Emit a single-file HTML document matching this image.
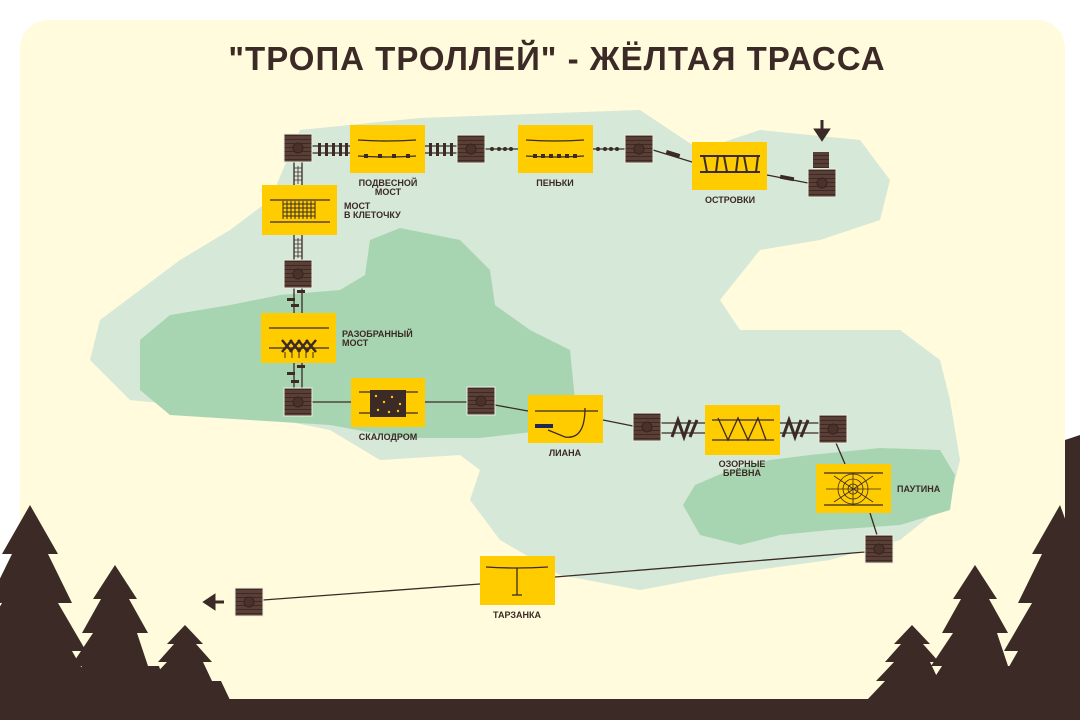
<!DOCTYPE html>
<html><head><meta charset="utf-8"><style>
html,body{margin:0;padding:0;background:#fff;width:1080px;height:720px;overflow:hidden}
svg{display:block}
text{font-family:"Liberation Sans","DejaVu Sans",sans-serif;font-weight:bold;fill:#3b2a26}
.l{font-size:9px}
</style></head><body>
<svg width="1080" height="720" viewBox="0 0 1080 720" xmlns="http://www.w3.org/2000/svg">
<defs>
<pattern id="wood" width="6" height="4" patternUnits="userSpaceOnUse">
<rect width="6" height="4" fill="#5a3f36"/><rect y="3" width="6" height="1" fill="#3e2a24"/>
</pattern>
<g id="pf"><rect x="-14" y="-14" width="28" height="28" fill="url(#wood)" stroke="#e8f0e0" stroke-width="1"/><circle r="5" fill="#4a322b" stroke="#35241f" stroke-width="1"/></g>
</defs>
<rect x="20" y="20" width="1045" height="690" rx="28" fill="#fffbdc"/>
<!-- light green -->
<path d="M300,130 L420,118 L640,110 L700,150 L760,130 L860,140 L890,180 L880,220 L820,240 L760,250 L720,300 L740,330 L800,330 L900,330 L940,360 L950,400 L960,460 L950,500 L900,540 L830,560 L720,575 L640,590 L560,575 L500,540 L470,500 L480,470 L460,455 L380,460 L330,430 L230,410 L130,400 L90,360 L100,320 L140,290 L180,260 L230,230 L270,200 Z" fill="#d6e8d8"/>
<!-- dark green -->
<path d="M370,240 L400,228 L460,240 L490,270 L495,305 L530,330 L570,350 L575,400 L550,430 L480,438 L400,438 L330,425 L250,420 L170,415 L140,390 L140,340 L170,315 L230,305 L280,295 L340,290 L365,275 Z" fill="#a8d5b1"/>
<path d="M730,470 L770,460 L810,455 L880,448 L940,450 L955,475 L950,510 L900,525 L830,530 L780,535 L740,545 L700,535 L683,505 L695,485 Z" fill="#a8d5b1"/>
<text x="557" y="70" text-anchor="middle" font-size="33" style="letter-spacing:1px">"ТРОПА ТРОЛЛЕЙ" - ЖЁЛТАЯ ТРАССА</text>
<!-- connectors -->
<g stroke="#3b2a26" stroke-width="1.3" fill="none">
<line x1="312" y1="146" x2="350" y2="146"/><line x1="312" y1="153" x2="350" y2="153"/>
<line x1="425" y1="146" x2="457" y2="146"/><line x1="425" y1="153" x2="457" y2="153"/>
<line x1="485" y1="149" x2="518" y2="149"/><line x1="593" y1="149" x2="625" y2="149"/>
<line x1="653" y1="150" x2="692" y2="162"/><line x1="767" y1="175" x2="808" y2="183"/>
<line x1="294" y1="162" x2="294" y2="260"/><line x1="302" y1="162" x2="302" y2="260"/>
<line x1="294" y1="288" x2="294" y2="388"/><line x1="302" y1="288" x2="302" y2="388"/>
<line x1="312" y1="402" x2="351" y2="402"/><line x1="425" y1="402" x2="467" y2="402"/>
<line x1="495" y1="405" x2="528" y2="411"/><line x1="603" y1="420" x2="633" y2="426"/>
<line x1="661" y1="423" x2="705" y2="423"/><line x1="661" y1="433" x2="705" y2="433"/>
<line x1="780" y1="423" x2="819" y2="423"/><line x1="780" y1="433" x2="819" y2="433"/>
<line x1="836" y1="443" x2="845" y2="464"/><line x1="870" y1="513" x2="877" y2="535"/>
<line x1="865" y1="552" x2="555" y2="577"/><line x1="480" y1="584" x2="263" y2="600"/>
</g>
<!-- rungs -->
<g fill="#3b2a26">
<rect x="318" y="143" width="3" height="13"/><rect x="325" y="143" width="3" height="13"/><rect x="332" y="143" width="3" height="13"/><rect x="339" y="143" width="3" height="13"/><rect x="345" y="143" width="3" height="13"/>
<rect x="429" y="143" width="3" height="13"/><rect x="436" y="143" width="3" height="13"/><rect x="443" y="143" width="3" height="13"/><rect x="450" y="143" width="3" height="13"/>
<circle cx="492" cy="149" r="2"/><circle cx="499" cy="149" r="2"/><circle cx="505" cy="149" r="2"/><circle cx="511" cy="149" r="2"/>
<circle cx="598" cy="149" r="2"/><circle cx="605" cy="149" r="2"/><circle cx="611" cy="149" r="2"/><circle cx="617" cy="149" r="2"/>
<rect x="666" y="152" width="14" height="4" transform="rotate(17 673 154)"/>
<rect x="780" y="176" width="14" height="4" transform="rotate(11 787 178)"/>
<rect x="287" y="298" width="8" height="3"/><rect x="297" y="290" width="8" height="3"/><rect x="291" y="304" width="8" height="3"/>
<rect x="287" y="372" width="8" height="3"/><rect x="297" y="365" width="8" height="3"/><rect x="291" y="380" width="8" height="3"/>
</g>
<g stroke="#3b2a26" stroke-width="0.8">
<path d="M294,168H302M294,172H302M294,176H302M294,180H302M294,240H302M294,244H302M294,248H302M294,252H302M294,256H302M298,166V184M298,238V258"/>
</g>
<g stroke="#3b2a26" stroke-width="3" fill="none">
<path d="M672,437L678,420L684,437L690,420M690,437L697,420"/>
<path d="M783,437L789,420L795,437L801,420M801,437L808,420"/>
</g>
<!-- yellow boxes -->
<g fill="#ffcc00">
<rect x="350" y="125" width="75" height="48"/><rect x="518" y="125" width="75" height="48"/>
<rect x="692" y="142" width="75" height="48"/><rect x="262" y="185" width="75" height="50"/>
<rect x="261" y="313" width="75" height="50"/><rect x="351" y="378" width="74" height="49"/>
<rect x="528" y="395" width="75" height="48"/><rect x="705" y="405" width="75" height="50"/>
<rect x="816" y="464" width="75" height="49"/><rect x="480" y="556" width="75" height="49"/>
</g>
<!-- icons -->
<g stroke="#3b2a26" stroke-width="1.3" fill="none">
<path d="M358,140Q387,142 416,140M358,156Q387,158 416,156"/>
<path d="M526,140Q555,142 584,140M526,156Q555,158 584,156"/>
<path d="M700,156H760M700,172H760M704,156L707,172M718,156L716,172M724,156L727,172M738,156L736,172M744,156L747,172M758,156L756,172" stroke-width="2"/>
<path d="M270,200H330M270,222H330"/>
<path d="M269,328H329M269,348H329"/>
<path d="M359,392H418M359,413H418"/>
<path d="M535,411H598M585,408Q585,440 565,437L548,430"/>
<path d="M712,420H774M712,440H774M718,418L728,440L738,418L748,440L758,418L766,440"/>
<path d="M824,473H883M824,505H883M486,567Q517,569 548,567M517,568V595M512,595H522"/>
</g>
<g fill="#3b2a26">
<rect x="364" y="154" width="4" height="4"/><rect x="378" y="154" width="4" height="4"/><rect x="392" y="154" width="4" height="4"/><rect x="406" y="154" width="4" height="4"/>
<rect x="533" y="154" width="4" height="4"/><rect x="541" y="154" width="4" height="4"/><rect x="549" y="154" width="4" height="4"/><rect x="557" y="154" width="4" height="4"/><rect x="565" y="154" width="4" height="4"/><rect x="573" y="154" width="4" height="4"/>
<rect x="370" y="390" width="36" height="27"/>
<rect x="535" y="424" width="18" height="4" fill="#1f2850"/>
</g>
<g stroke="#3b2a26" stroke-width="1">
<path d="M283,201V219M287,201V219M291,201V219M295,201V219M299,201V219M303,201V219M307,201V219M311,201V219M315,201V219M283,204H315M283,208H315M283,212H315M283,216H315"/>
<path d="M282,340L292,352M292,340L282,352M290,340L300,352M300,340L290,352M298,340L308,352M308,340L298,352M306,340L316,352M316,340L306,352" stroke-width="2.5"/>
<path d="M285,352V358M292,352V358M299,352V358M306,352V358M313,352V358"/>
<path d="M834,476L873,502M873,476L834,502M826,489H881M853,473V505" stroke-width="0.8"/>
<circle cx="853" cy="489" r="5" fill="none" stroke-width="0.8"/><circle cx="853" cy="489" r="10" fill="none" stroke-width="0.8"/><circle cx="853" cy="489" r="15" fill="none" stroke-width="0.8"/>
</g>
<g fill="#ffcc00"><circle cx="376" cy="396" r="1.2"/><circle cx="384" cy="402" r="1.2"/><circle cx="392" cy="397" r="1.2"/><circle cx="400" cy="404" r="1.2"/><circle cx="378" cy="410" r="1.2"/><circle cx="389" cy="412" r="1.2"/><circle cx="398" cy="411" r="1.2"/></g>
<!-- platforms -->
<use href="#pf" x="298" y="148"/><use href="#pf" x="471" y="149"/><use href="#pf" x="639" y="149"/>
<rect x="813" y="152" width="16" height="16" fill="url(#wood)"/>
<use href="#pf" x="822" y="183"/>
<use href="#pf" x="298" y="274"/><use href="#pf" x="298" y="402"/><use href="#pf" x="481" y="401"/>
<use href="#pf" x="647" y="427"/><use href="#pf" x="833" y="429"/><use href="#pf" x="879" y="549"/><use href="#pf" x="249" y="602"/>
<path d="M822,120V134M816,130L822,139L828,130Z" stroke="#3b2a26" stroke-width="3" fill="#3b2a26"/>
<path d="M224,602H212M214,596L205,602L214,608Z" stroke="#3b2a26" stroke-width="3" fill="#3b2a26"/>
<!-- labels -->
<text class="l" x="388" y="186" text-anchor="middle">ПОДВЕСНОЙ</text><text class="l" x="388" y="195" text-anchor="middle">МОСТ</text>
<text class="l" x="555" y="186" text-anchor="middle">ПЕНЬКИ</text>
<text class="l" x="730" y="203" text-anchor="middle">ОСТРОВКИ</text>
<text class="l" x="344" y="209">МОСТ</text><text class="l" x="344" y="218">В КЛЕТОЧКУ</text>
<text class="l" x="342" y="337">РАЗОБРАННЫЙ</text><text class="l" x="342" y="346">МОСТ</text>
<text class="l" x="388" y="440" text-anchor="middle">СКАЛОДРОМ</text>
<text class="l" x="565" y="456" text-anchor="middle">ЛИАНА</text>
<text class="l" x="742" y="467" text-anchor="middle">ОЗОРНЫЕ</text><text class="l" x="742" y="476" text-anchor="middle">БРЁВНА</text>
<text class="l" x="897" y="492">ПАУТИНА</text>
<text class="l" x="517" y="618" text-anchor="middle">ТАРЗАНКА</text>
<!-- trees -->
<g fill="#3b2a26">
<rect x="0" y="699" width="1080" height="21"/>
<path d="M1065,440L1080,435V720H1065Z"/>
<polygon points="30,505 2,554 12,554 -12,603 2,603 -26,651 -12,651 -40,700 100,700 72,651 86,651 58,603 72,603 48,554 58,554"/>
<polygon points="115,565 93,599 101,599 82,633 93,633 71,666 82,666 60,700 170,700 159,666 148,666 137,633 148,633 129,599 137,599" transform="translate(0,0)"/>
<polygon points="185,625 167,644 174,644 158,662 167,662 149,681 158,681 140,700 230,700 221,681 212,681 203,662 212,662 196,644 203,644"/>
<polygon points="912,625 894,644 901,644 885,662 894,662 876,681 885,681 867,700 957,700 948,681 939,681 930,662 939,662 923,644 930,644"/>
<polygon points="975,565 953,599 961,599 942,633 953,633 931,666 942,666 920,700 1030,700 1019,666 1008,666 997,633 1008,633 989,599 997,599"/>
<polygon points="1060,505 1032,554 1042,554 1018,603 1032,603 1004,651 1018,651 990,700 1120,700 1092,651 1106,651 1078,603 1092,603 1068,554 1078,554"/>
</g>
</svg>
</body></html>
